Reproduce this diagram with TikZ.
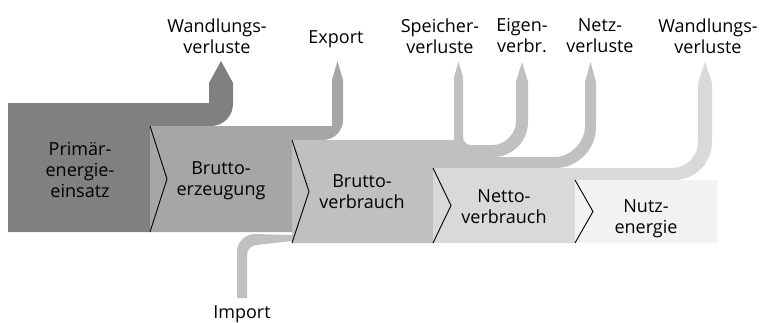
\documentclass[tikz,border=0pt]{standalone}
\usepackage{fontspec}
\setmainfont{Open Sans}
\definecolor{primgray}{HTML}{808080}
\definecolor{erzgray}{HTML}{A6A6A6}
\definecolor{bvgray}{HTML}{C0C0C0}
\definecolor{nvgray}{HTML}{D9D9D9}
\definecolor{nutzgray}{HTML}{F2F2F2}
\tikzset{lbl/.style={align=center, font=\fontsize{18}{21}\selectfont, inner sep=0pt},
  chevron/.style={draw=black, line width=0.9pt}}
\begin{document}
\begin{tikzpicture}[x=1pt,y=-1pt]
        \useasboundingbox (0,0) rectangle (763,322);
        % primaer
        \fill [primgray] (8,232) -- (8,103) -- (209,103) -- (209,83) -- (221,61) -- (233,83) -- (233,104) .. controls (233,116.2) and (223.2,126) .. (211,126) -- (150,126) -- (150,232) -- cycle;
        % bruttoerzeugung
        \fill [erzgray] (150,232) -- (150,126) -- (332,126) -- (332,80) -- (337.5,61) -- (343,80) -- (343,120) .. controls (343,131) and (334,140) .. (323,140) -- (292,140) -- (292,232) -- cycle;
        % import
        \fill [bvgray] (237,298) -- (237,252) .. controls (237,242.1) and (245.1,234) .. (255,234) -- (292,235) -- (292,241) -- (257,245) .. controls (251.5,245) and (247,249.5) .. (247,255) -- (247,298) -- cycle;
        % bruttoverbrauch
        \fill [bvgray] (292,243) -- (292,140) -- (454,140) -- (454,77) -- (458.5,62) -- (463,77) -- (463,137) .. controls (463,141.4) and (466.6,145) .. (471,145) -- (493,145) .. controls (505.7,145) and (516,132.3) .. (516,122) -- (516,82) -- (522,62) -- (528,82) -- (528,122) .. controls (528,141.3) and (512.3,157) .. (493,157) -- (555,157) .. controls (571.6,157) and (585,140.4) .. (585,127) -- (585,82) -- (590.5,62) -- (596,82) -- (596,127) .. controls (596,149.6) and (577.6,168) .. (555,168) -- (433,168) -- (433,243) -- cycle;
        % nettoverbrauch
        \fill [nvgray] (433,243) -- (433,168) -- (672,168) .. controls (686.4,168) and (698,156.4) .. (698,142) -- (698,83) -- (705,62) -- (712,83) -- (712,142) .. controls (712,163) and (695,180) .. (674,180) -- (575,180) -- (575,243) -- cycle;
        % nutzenergie
        \fill [nutzgray] (575,180) rectangle (717,243);
        % chevrons
        \draw [chevron] (150,126) -- (167,179) -- (150,232);
        \draw [chevron] (292,140) -- (309,191.5) -- (292,243);
        \draw [chevron] (433,168) -- (451,205.5) -- (433,243);
        \draw [chevron] (575,180) -- (593,211.5) -- (575,243);
        % box texts
        \node [lbl] (prim) at (80,170) {Primär-\\energie-\\einsatz};
        \node [lbl] (erz) at (221,181) {Brutto-\\erzeugung};
        \node [lbl] (bv) at (362,192) {Brutto-\\verbrauch};
        \node [lbl] (nv) at (504,207) {Netto-\\verbrauch};
        \node [lbl] (nutz) at (646,219) {Nutz-\\energie};
        % flow texts
        \node [lbl] (wv1) at (217,36) {Wandlungs-\\verluste};
        \node [lbl, anchor=base] (exp) at (336,43) {Export};
        \node [lbl] (sv) at (440,36) {Speicher-\\verluste};
        \node [lbl] (ev) at (522,36) {Eigen-\\verbr.};
        \node [lbl] (netzv) at (600,36) {Netz-\\verluste};
        \node [lbl] (wv2) at (708,36) {Wandlungs-\\verluste};
        \node [lbl, anchor=base] (imp) at (242,318) {Import};
    \end{tikzpicture}
\end{document}
